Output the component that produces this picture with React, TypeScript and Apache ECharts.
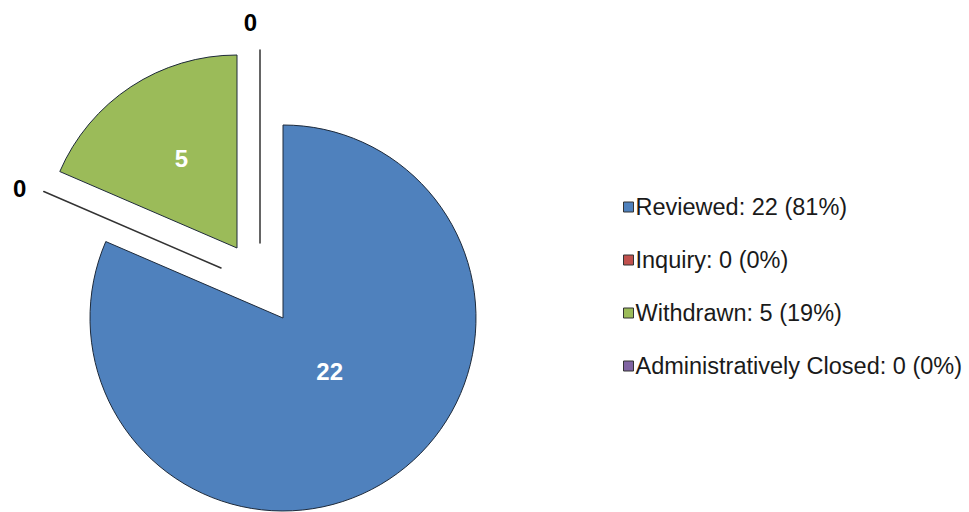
import React, { useEffect, useRef } from "react";
import * as echarts from "echarts";

// ---- data ----
const categories = ["Reviewed", "Inquiry", "Withdrawn", "Administratively Closed"];
const values = [22, 0, 5, 0];
const colors = ["#4F81BD", "#C0504D", "#9BBB59", "#8064A2"];

// ---- style / layout ----
const FONT = '"Liberation Sans", Arial, sans-serif';
const BASE_CX = 283;
const BASE_CY = 318;
const RADIUS = 193;
const explodeDX = [0, -62, -46, -23];
const explodeDY = [0, -50, -70, -75];
const labelDX = [-8, -5, -1, 2];
const labelDY = [-30, 0, -6, -20];

export default function App() {
  const ref = useRef<HTMLDivElement>(null);

  useEffect(() => {
    document.body.style.margin = "0";
    if (!ref.current) return;
    const chart = echarts.init(ref.current, undefined, { renderer: "svg" });
    const total = values.reduce((a, b) => a + b, 0);

    const series = categories.map((_, i) => ({
      type: "pie" as const,
      center: [BASE_CX + explodeDX[i], BASE_CY + explodeDY[i]],
      radius: RADIUS,
      startAngle: 90,
      clockwise: true,
      avoidLabelOverlap: false,
      silent: true,
      labelLine: { show: false, length: 8, length2: 0 },
      labelLayout: () => ({ dx: labelDX[i], dy: labelDY[i] }),
      data: categories.map((name, j) => {
        const own = j === i;
        const zero = values[j] === 0;
        return {
          name,
          value: values[j],
          itemStyle: own
            ? {
                color: colors[j],
                borderColor: zero ? "#333333" : "#1e2a3a",
                borderWidth: zero ? 1.5 : 1,
              }
            : { color: "rgba(0,0,0,0)", borderWidth: 0 },
          label: own
            ? {
                show: true,
                formatter: "{c}",
                position: zero ? "outside" : "inside",
                color: zero ? "#000000" : "#ffffff",
                fontWeight: "bold",
                fontSize: 24,
                fontFamily: FONT,
              }
            : { show: false },
        };
      }),
    }));

    chart.setOption({
      animation: false,
      backgroundColor: "#ffffff",
      legend: {
        orient: "vertical",
        left: 618,
        top: 190,
        itemWidth: 10,
        itemHeight: 10,
        itemGap: 29,
        icon: "rect",
        selectedMode: false,
        textStyle: {
          fontFamily: FONT,
          fontSize: 23.5,
          lineHeight: 24,
          color: "#1a1a1a",
          padding: [0, 0, 0, -3],
        },
        data: categories.map((name, j) => ({
          name,
          itemStyle: { color: colors[j], borderColor: "#333333", borderWidth: 1 },
        })),
        formatter: (name: string) => {
          const j = categories.indexOf(name);
          const pct = total ? Math.round((values[j] / total) * 100) : 0;
          return `${name}: ${values[j]} (${pct}%)`;
        },
      },
      series,
    });

    return () => chart.dispose();
  }, []);

  return <div ref={ref} style={{ width: 969, height: 512 }} />;
}
